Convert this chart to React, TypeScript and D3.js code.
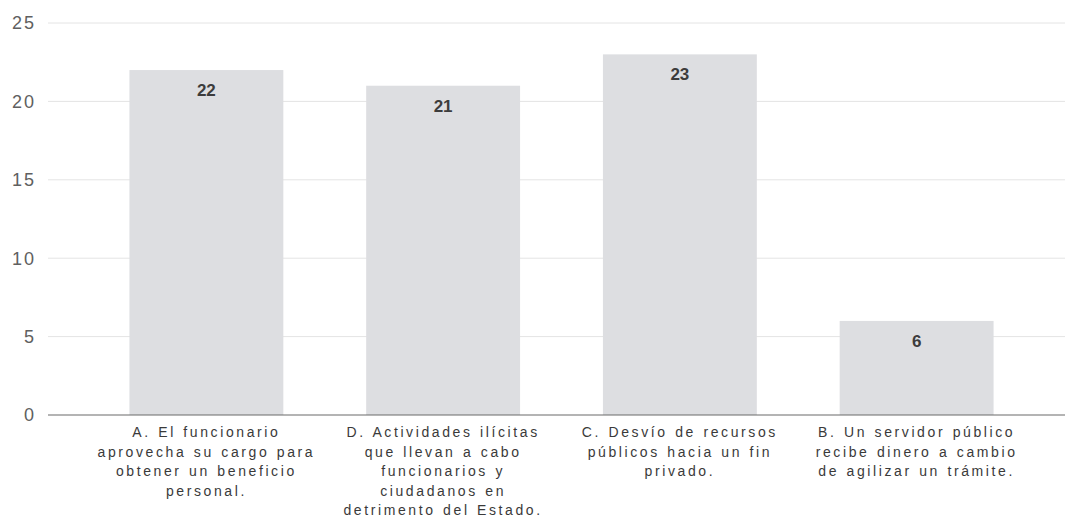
import React from "react";
import * as d3 from "d3";

const categories = ["A", "D", "C", "B"];
const values = [22, 21, 23, 6];
const categoryLabels = [
  ["A. El funcionario", "aprovecha su cargo para", "obtener un beneficio", "personal."],
  ["D. Actividades ilícitas", "que llevan a cabo", "funcionarios y", "ciudadanos en", "detrimento del Estado."],
  ["C. Desvío de recursos", "públicos hacia un fin", "privado."],
  ["B. Un servidor público", "recibe dinero a cambio", "de agilizar un trámite."],
];
const yTicks = [0, 5, 10, 15, 20, 25];

const W = 1065;
const H = 519;

export default function App() {
  const x = d3.scaleBand<string>().domain(categories).range([88, 1035]).paddingInner(0.35).paddingOuter(0.175);
  const y = d3.scaleLinear().domain([0, 25]).range([415, 23]);
  const gridLeft = 48;
  const gridRight = 1065;
  return (
    <svg width={W} height={H} style={{ position: "absolute", left: 0, top: 0, background: "#fff" }}
      fontFamily="'Liberation Sans', Arial, sans-serif">
      {yTicks.map((t) => (
        <g key={t}>
          {t > 0 && (
            <line x1={gridLeft} x2={gridRight} y1={y(t)} y2={y(t)} stroke="#e4e4e4" strokeWidth={1} />
          )}
          <text x={36} y={y(t)} dy="0.36em" textAnchor="end" fontSize={18} fill="#606060" letterSpacing={2}>
            {t}
          </text>
        </g>
      ))}
      {categories.map((c, i) => (
        <g key={c}>
          <rect x={x(c)} y={y(values[i])} width={x.bandwidth()} height={y(0) - y(values[i])} fill="#dddee1" />
          <text x={(x(c) as number) + x.bandwidth() / 2} y={y(values[i]) + 20} dy="0.36em" textAnchor="middle"
            fontSize={17} fontWeight="bold" fill="#3c3c3c">
            {values[i]}
          </text>
          {categoryLabels[i].map((ln, j) => (
            <text key={j} x={(x(c) as number) + x.bandwidth() / 2} y={432 + j * 19.6} dy="0.35em" textAnchor="middle"
              fontSize={14} fill="#3a3a3a" letterSpacing={2.6} wordSpacing={1}>
              {ln}
            </text>
          ))}
        </g>
      ))}
      <line x1={gridLeft} x2={gridRight} y1={y(0)} y2={y(0)} stroke="#6a6a6a" strokeWidth={1.2} />
    </svg>
  );
}
